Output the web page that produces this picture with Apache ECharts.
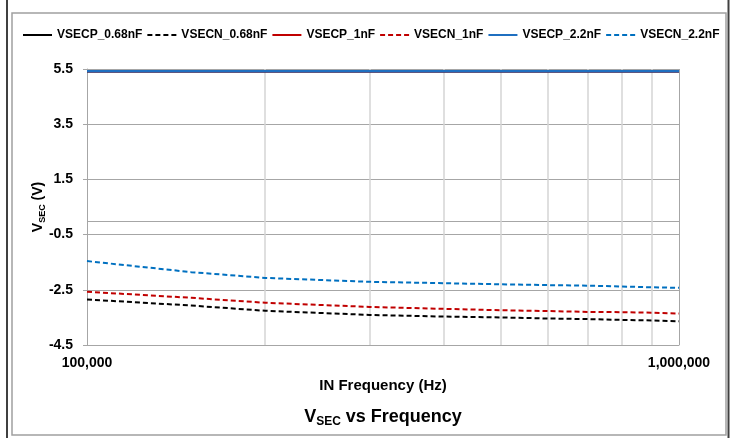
<!DOCTYPE html>
<html>
<head>
<meta charset="utf-8">
<script src="https://cdn.jsdelivr.net/npm/echarts@6/dist/echarts.min.js"></script>
<style>
html,body{margin:0;padding:0;background:#fff;}
#chart{width:737px;height:438px;}
</style>
</head>
<body>
<div id="chart"></div>
<script>
// ---- data ----
var frequencies = [100000, 150000, 200000, 300000, 400000, 500000, 600000, 700000, 800000, 900000, 1000000];
var vsecp068 = [5.42, 5.42, 5.42, 5.42, 5.42, 5.42, 5.42, 5.42, 5.42, 5.42, 5.42];
var vsecn068 = [-2.85, -3.07, -3.26, -3.41, -3.47, -3.50, -3.54, -3.56, -3.59, -3.61, -3.64];
var vsecp1 = [5.42, 5.42, 5.42, 5.42, 5.42, 5.42, 5.42, 5.42, 5.42, 5.42, 5.42];
var vsecn1 = [-2.57, -2.79, -2.97, -3.12, -3.19, -3.24, -3.27, -3.30, -3.31, -3.33, -3.36];
var vsecp22 = [5.42, 5.42, 5.42, 5.42, 5.42, 5.42, 5.42, 5.42, 5.42, 5.42, 5.42];
var vsecn22 = [-1.46, -1.86, -2.07, -2.21, -2.26, -2.30, -2.33, -2.35, -2.38, -2.41, -2.43];
var seriesNames = ['VSECP_0.68nF', 'VSECN_0.68nF', 'VSECP_1nF', 'VSECN_1nF', 'VSECP_2.2nF', 'VSECN_2.2nF'];
var yTicks = [-4.5, -2.5, -0.5, 1.5, 3.5, 5.5];
var xMinorGrid = [200000, 300000, 400000, 500000, 600000, 700000, 800000, 900000];
var xRange = [100000, 1000000];
var zeroLine = 0;

var FONT = "'Liberation Sans', Arial, sans-serif";

function pairs(vals) {
  return frequencies.map(function (f, i) { return [f, vals[i]]; });
}

function mkSeries(name, vals, color, dashed) {
  return {
    name: name,
    type: 'line',
    data: pairs(vals),
    symbol: 'none',
    smooth: false,
    z: 3,
    lineStyle: { color: color, width: dashed ? 2 : 2.5, type: dashed ? [5, 3] : 'solid' },
    itemStyle: { color: color, opacity: 0 }
  };
}

var gridData = [];
yTicks.forEach(function (v) {
  if (v !== yTicks[0]) gridData.push({ yAxis: v, lineStyle: { color: '#a6a6a6', width: 1, type: 'solid' } });
});
gridData.push({ yAxis: zeroLine, lineStyle: { color: '#a6a6a6', width: 1, type: 'solid' } });
xMinorGrid.forEach(function (f) {
  gridData.push({ xAxis: f, lineStyle: { color: '#d4d4d4', width: 1.5, type: 'solid' } });
});
gridData.push({ xAxis: xRange[1], lineStyle: { color: '#a6a6a6', width: 1, type: 'solid' } });

var series = [
  {
    name: '_grid',
    type: 'line',
    data: [],
    z: 1,
    silent: true,
    markLine: {
      z: 1,
      silent: true,
      symbol: 'none',
      label: { show: false },
      emphasis: { disabled: true },
      animation: false,
      data: gridData
    }
  },
  mkSeries(seriesNames[0], vsecp068, '#000000', false),
  mkSeries(seriesNames[1], vsecn068, '#000000', true),
  mkSeries(seriesNames[2], vsecp1, '#c00000', false),
  mkSeries(seriesNames[3], vsecn1, '#c00000', true),
  mkSeries(seriesNames[4], vsecp22, '#1f6fc0', false),
  mkSeries(seriesNames[5], vsecn22, '#0070c0', true)
];

var chart = echarts.init(document.getElementById('chart'), null, { renderer: 'canvas' });
chart.setOption({
  animation: false,
  backgroundColor: '#ffffff',
  textStyle: { fontFamily: FONT },
  graphic: [
    { type: 'rect', z: 0, shape: { x: 12, y: 13, width: 714, height: 422 }, style: { fill: 'none', stroke: '#a0a0a0', lineWidth: 1.5 } },
    { type: 'line', z: 0, shape: { x1: 7, y1: 0, x2: 7, y2: 438 }, style: { stroke: '#404040', lineWidth: 2 } },
    { type: 'line', z: 0, shape: { x1: 728.5, y1: 0, x2: 728.5, y2: 438 }, style: { stroke: '#404040', lineWidth: 2 } },
    {
      type: 'text', x: 383, y: 417, z: 10,
      style: {
        text: '{v|V}{s|SEC}{v| vs Frequency}',
        align: 'center', verticalAlign: 'middle',
        rich: {
          v: { fontFamily: FONT, fontSize: 18, fontWeight: 'bold', fill: '#000', lineHeight: 22 },
          s: { fontFamily: FONT, fontSize: 12, fontWeight: 'bold', fill: '#000', lineHeight: 12, verticalAlign: 'bottom' }
        }
      }
    }
  ],
  legend: {
    data: seriesNames,
    left: 22,
    top: 29,
    padding: 0,
    itemWidth: 29,
    itemHeight: 14,
    itemGap: 4,
    textStyle: { fontFamily: FONT, fontSize: 12, fontWeight: 'bold', color: '#000' }
  },
  grid: { left: 87, right: 58, top: 69, bottom: 93, containLabel: false },
  xAxis: {
    type: 'log',
    logBase: 10,
    min: xRange[0],
    max: xRange[1],
    name: 'IN Frequency (Hz)',
    nameLocation: 'middle',
    nameGap: 33,
    nameTextStyle: { fontFamily: FONT, fontSize: 15, fontWeight: 'bold', color: '#000' },
    axisLine: { show: true, onZero: false, lineStyle: { color: '#a6a6a6', width: 1 } },
    axisTick: { show: false },
    splitLine: { show: false },
    minorSplitLine: { show: false },
    axisLabel: {
      fontFamily: FONT, fontSize: 14, fontWeight: 'bold', color: '#000', margin: 11,
      showMinLabel: true, showMaxLabel: true,
      formatter: function (v) { return String(Math.round(v)).replace(/\B(?=(\d{3})+(?!\d))/g, ','); }
    }
  },
  yAxis: {
    type: 'value',
    min: yTicks[0],
    max: yTicks[yTicks.length - 1],
    name: '{v|V}{s|SEC}{v| (V)}',
    nameLocation: 'middle',
    nameRotate: 90,
    nameGap: 40,
    nameMoveOverlap: false,
    nameTextStyle: {
      rich: {
        v: { fontFamily: FONT, fontSize: 14, fontWeight: 'bold', color: '#000', lineHeight: 18 },
        s: { fontFamily: FONT, fontSize: 9, fontWeight: 'bold', color: '#000', lineHeight: 10, verticalAlign: 'bottom' }
      }
    },
    axisLine: { show: true, lineStyle: { color: '#a6a6a6', width: 1 } },
    axisTick: { show: true, inside: false, length: 4, customValues: yTicks, lineStyle: { color: '#a6a6a6' } },
    splitLine: { show: false },
    axisLabel: {
      customValues: yTicks,
      fontFamily: FONT, fontSize: 14, fontWeight: 'bold', color: '#000', margin: 14,
      formatter: function (v) { return Number(v).toFixed(1); }
    }
  },
  series: series
});
</script>
</body>
</html>
